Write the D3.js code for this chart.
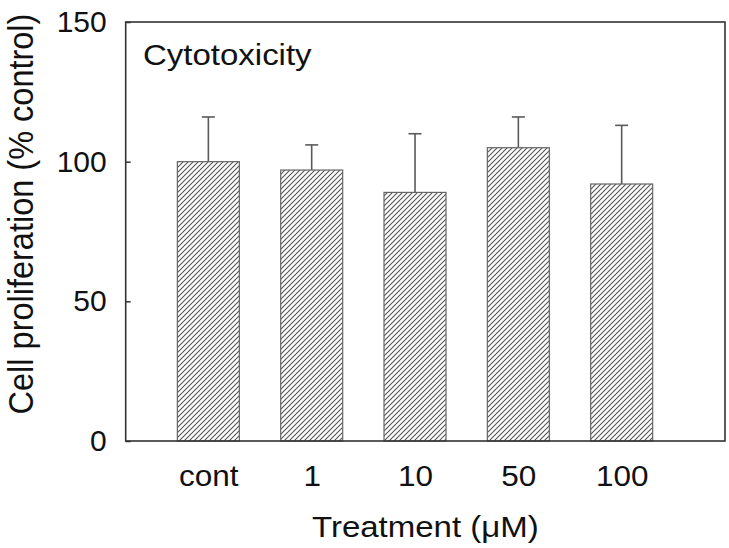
<!DOCTYPE html>
<html>
<head>
<meta charset="utf-8">
<script src="https://cdn.jsdelivr.net/npm/d3@7"></script>
<style>
  html, body { margin: 0; padding: 0; background: #fff; }
  svg { display: block; }
  text { font-family: "Liberation Sans", Arial, sans-serif; fill: #111; }
</style>
</head>
<body>
<svg id="chart" width="729" height="548"></svg>
<script>
const categories = ["cont", "1", "10", "50", "100"];
const values = [100, 97, 89, 105, 92];
const errors = [16, 9, 21, 11, 21];
const yTicks = [0, 50, 100, 150];
const title = "Cytotoxicity";
const xTitle = "Treatment (\u03BCM)";
const yTitle = "Cell proliferation (% control)";

(function () {
const mLeft = 125.7, mRight = 725, mTop = 22, mBottom = 441;
const svg = d3.select("#chart");

const x = d3.scaleLinear().domain([0.2, 6]).range([mLeft, mRight]);
const y = d3.scaleLinear().domain([0, 150]).range([mBottom, mTop]);
const barW = 0.6;

const defs = svg.append("defs");
const pat = defs.append("pattern")
  .attr("id", "hatch").attr("patternUnits", "userSpaceOnUse")
  .attr("width", 5).attr("height", 5);
pat.append("rect").attr("width", 5).attr("height", 5).attr("fill", "#fff");
pat.append("path")
  .attr("d", "M0,5 L5,0 M-1,1 L1,-1 M4,6 L6,4")
  .attr("stroke", "#555").attr("stroke-width", 1.1);

const data = categories.map((c, i) => ({ c, i: i + 1, v: values[i], e: errors[i] }));

// error bars
const eb = svg.append("g").attr("stroke", "#5a5a5a").attr("stroke-width", 1.6);
eb.selectAll("line.v").data(data).join("line").attr("class", "v")
  .attr("x1", d => x(d.i)).attr("x2", d => x(d.i))
  .attr("y1", d => y(d.v)).attr("y2", d => y(d.v + d.e));
eb.selectAll("line.c").data(data).join("line").attr("class", "c")
  .attr("x1", d => x(d.i) - 6.5).attr("x2", d => x(d.i) + 6.5)
  .attr("y1", d => y(d.v + d.e)).attr("y2", d => y(d.v + d.e));

// bars
svg.append("g").selectAll("rect").data(data).join("rect")
  .attr("x", d => x(d.i - barW / 2))
  .attr("width", d => x(d.i + barW / 2) - x(d.i - barW / 2))
  .attr("y", d => y(d.v))
  .attr("height", d => y(0) - y(d.v))
  .attr("fill", "url(#hatch)")
  .attr("stroke", "#666").attr("stroke-width", 1.2);

// y axis
const yAxis = d3.axisLeft(y).tickValues(yTicks).tickSizeInner(-5).tickSizeOuter(0).tickPadding(19);
const gy = svg.append("g").attr("transform", `translate(${mLeft},0)`).call(yAxis);
gy.select(".domain").remove();
gy.selectAll(".tick line").attr("stroke", "#333").attr("stroke-width", 1.5);
gy.selectAll(".tick text").attr("font-size", 30).attr("fill", "#111")
  .attr("font-family", "Liberation Sans, Arial, sans-serif");

// x labels
const xAxis = d3.axisBottom(x).tickValues(data.map(d => d.i))
  .tickFormat((d, i) => categories[i]).tickSize(0).tickPadding(24);
const gx = svg.append("g").attr("transform", `translate(0,${mBottom})`).call(xAxis);
gx.select(".domain").remove();
gx.selectAll(".tick text").attr("font-size", 30).attr("fill", "#111")
  .attr("font-family", "Liberation Sans, Arial, sans-serif")
  .attr("transform", "scale(1.05,1)");

// frame
svg.append("rect")
  .attr("x", mLeft).attr("y", mTop)
  .attr("width", mRight - mLeft).attr("height", mBottom - mTop)
  .attr("fill", "none").attr("stroke", "#333").attr("stroke-width", 1.6);

// title inside
svg.append("text").attr("transform", "translate(143,65) scale(1.1,1)")
  .attr("font-size", 30).text(title);

// axis titles
svg.append("text").attr("transform", `translate(${(mLeft + mRight) / 2},537) scale(1.1,1)`)
  .attr("text-anchor", "middle").attr("font-size", 30).text(xTitle);
svg.append("text")
  .attr("transform", "translate(33,214) rotate(-90) scale(1,1.08)")
  .attr("text-anchor", "middle").attr("font-size", 32.5).text(yTitle);
})();
</script>
</body>
</html>
